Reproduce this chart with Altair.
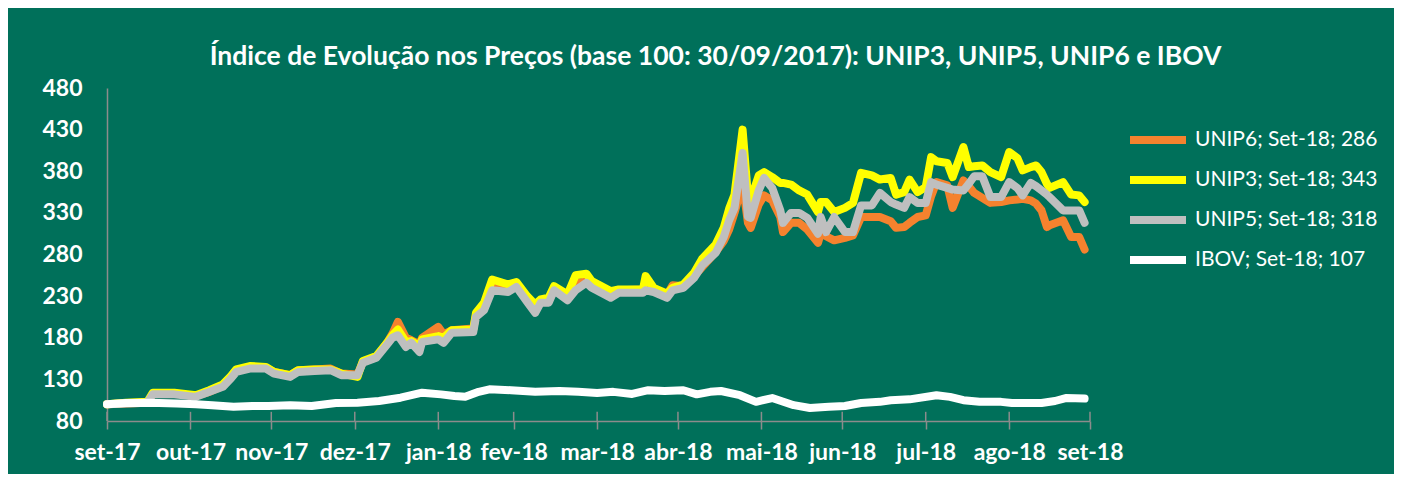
import altair as alt
import pandas as pd

# ---------------- data ----------------
dates_unip = [
    "2017-09-30", "2017-10-07", "2017-10-15", "2017-10-17", "2017-10-25", "2017-11-02", "2017-11-07", "2017-11-12", "2017-11-15", "2017-11-17",
    "2017-11-22", "2017-11-28", "2017-12-01", "2017-12-07", "2017-12-10", "2017-12-16", "2017-12-22", "2017-12-26", "2018-01-01", "2018-01-03",
    "2018-01-08", "2018-01-12", "2018-01-14", "2018-01-16", "2018-01-19", "2018-01-21", "2018-01-24", "2018-01-25", "2018-01-31", "2018-02-02",
    "2018-02-05", "2018-02-13", "2018-02-14", "2018-02-17", "2018-02-20", "2018-02-26", "2018-03-01", "2018-03-05", "2018-03-08", "2018-03-10",
    "2018-03-13", "2018-03-15", "2018-03-20", "2018-03-23", "2018-03-27", "2018-03-29", "2018-04-05", "2018-04-08", "2018-04-17", "2018-04-18",
    "2018-04-21", "2018-04-26", "2018-04-28", "2018-05-02", "2018-05-06", "2018-05-09", "2018-05-14", "2018-05-17", "2018-05-19", "2018-05-21",
    "2018-05-24", "2018-05-26", "2018-05-27", "2018-05-30", "2018-06-01", "2018-06-04", "2018-06-07", "2018-06-08", "2018-06-11", "2018-06-14",
    "2018-06-17", "2018-06-21", "2018-06-22", "2018-06-24", "2018-06-27", "2018-07-01", "2018-07-04", "2018-07-07", "2018-07-11", "2018-07-14",
    "2018-07-18", "2018-07-20", "2018-07-23", "2018-07-25", "2018-07-28", "2018-07-31", "2018-08-02", "2018-08-04", "2018-08-08", "2018-08-10",
    "2018-08-14", "2018-08-16", "2018-08-18", "2018-08-21", "2018-08-24", "2018-08-28", "2018-08-31", "2018-09-03", "2018-09-05", "2018-09-08",
    "2018-09-10", "2018-09-12", "2018-09-14", "2018-09-15", "2018-09-20", "2018-09-23", "2018-09-26", "2018-09-28",
]

unip5 = [
    100, 101, 102, 112, 112, 109, 115, 121, 131, 139,
    143, 143, 137, 133, 139, 140, 141, 135, 135, 150,
    156, 172, 180, 183, 169, 174, 163, 175, 178, 174,
    186, 187, 205, 213, 237, 235, 241, 223, 210, 222,
    222, 237, 225, 237, 246, 240, 228, 234, 234, 237,
    235, 228, 237, 240, 252, 267, 282, 301, 321, 336,
    402, 325, 324, 357, 372, 360, 333, 318, 330, 330,
    324, 305, 325, 307, 325, 307, 307, 339, 339, 354,
    343, 340, 336, 349, 342, 342, 367, 364, 360, 358,
    357, 365, 374, 374, 349, 349, 367, 360, 351, 366,
    362, 357, 352, 349, 333, 333, 333, 318,
]

unip3 = [
    100, 102, 103, 114, 114, 111, 117, 124, 134, 142,
    146, 145, 139, 135, 141, 142, 142, 137, 133, 152,
    158, 174, 183, 190, 175, 176, 170, 178, 182, 180,
    189, 190, 210, 222, 250, 244, 247, 230, 220, 226,
    228, 242, 232, 255, 257, 248, 236, 238, 238, 254,
    240, 233, 240, 244, 258, 275, 292, 312, 335, 352,
    430, 350, 346, 375, 379, 373, 366, 366, 364, 357,
    352, 331, 343, 343, 331, 336, 342, 378, 375, 370,
    372, 352, 355, 370, 355, 361, 397, 392, 390, 373,
    409, 385, 386, 387, 379, 373, 403, 396, 381, 385,
    387, 379, 365, 360, 367, 352, 351, 343,
]

unip6 = [
    100, 101, 102, 113, 113, 110, 115, 122, 133, 141,
    144, 144, 139, 135, 141, 142, 143, 137, 136, 151,
    157, 174, 185, 199, 180, 177, 172, 180, 193, 184,
    189, 191, 207, 216, 245, 242, 244, 228, 218, 225,
    226, 240, 230, 245, 248, 244, 234, 237, 238, 242,
    238, 232, 243, 242, 254, 265, 283, 296, 310, 330,
    365, 318, 312, 340, 351, 345, 325, 307, 318, 318,
    310, 294, 305, 302, 297, 300, 303, 325, 325, 325,
    320, 312, 313, 318, 325, 327, 350, 367, 363, 336,
    369, 362, 354, 348, 342, 343, 345, 346, 347, 345,
    341, 333, 313, 315, 321, 301, 301, 286,
]

dates_ibov = [
    "2017-09-30", "2017-10-07", "2017-10-16", "2017-10-26", "2017-11-02", "2017-11-08", "2017-11-16", "2017-11-23", "2017-11-29", "2017-12-07",
    "2017-12-15", "2017-12-24", "2018-01-01", "2018-01-09", "2018-01-17", "2018-01-25", "2018-02-01", "2018-02-06", "2018-02-10", "2018-02-15",
    "2018-02-19", "2018-02-27", "2018-03-08", "2018-03-17", "2018-03-24", "2018-03-31", "2018-04-06", "2018-04-13", "2018-04-19", "2018-04-25",
    "2018-05-02", "2018-05-07", "2018-05-12", "2018-05-16", "2018-05-23", "2018-05-29", "2018-06-04", "2018-06-12", "2018-06-18", "2018-06-25",
    "2018-07-01", "2018-07-07", "2018-07-14", "2018-07-18", "2018-07-25", "2018-08-04", "2018-08-09", "2018-08-14", "2018-08-20", "2018-08-28",
    "2018-09-01", "2018-09-05", "2018-09-12", "2018-09-17", "2018-09-21", "2018-09-28",
]

ibov = [
    100, 101.5, 102, 101, 100, 99, 97, 98, 98, 99,
    98, 101.6, 102, 104, 108, 114, 112, 110, 109, 115,
    118, 117, 115, 116, 115, 113.6, 115, 112.5, 117, 116,
    117, 112, 115, 116, 111, 103, 107.6, 99, 95.6, 97,
    98, 101.6, 103, 105, 106, 111, 109, 105, 103, 103,
    101.6, 101.6, 101.6, 104, 107.6, 107,
]

month_ticks = [
    "2017-09-30", "2017-10-31", "2017-11-30", "2017-12-31", "2018-01-31", "2018-02-28", "2018-03-31",
    "2018-04-30", "2018-05-31", "2018-06-30", "2018-07-31", "2018-08-31", "2018-09-30",
]
month_names = ["jan", "fev", "mar", "abr", "mai", "jun", "jul", "ago", "set", "out", "nov", "dez"]
y_ticks = [80, 130, 180, 230, 280, 330, 380, 430, 480]

series_order = ["UNIP6", "UNIP3", "UNIP5", "IBOV"]
series_colors = ["#F5822E", "#FFFF00", "#BFBFBF", "#FFFFFF"]

title_text = "Índice de Evolução nos Preços (base 100: 30/09/2017): UNIP3, UNIP5, UNIP6 e IBOV"

# ---------------- build table ----------------
rows = []
sources = {"UNIP6": (dates_unip, unip6), "UNIP3": (dates_unip, unip3),
           "UNIP5": (dates_unip, unip5), "IBOV": (dates_ibov, ibov)}
last_vals = {}
for name in series_order:
    ds, vs = sources[name]
    for d, v in zip(ds, vs):
        rows.append({"date": d, "value": v, "series": name})
    last_vals[name] = vs[-1]
df = pd.DataFrame(rows)
ticks_df = pd.DataFrame({"date": month_ticks})


def dt(s):
    y, m, d = map(int, s.split("-"))
    return alt.DateTime(year=y, month=m, date=d, utc=True)


label_expr = ""
for name in series_order:
    label_expr += f"datum.label == '{name}' ? '{name}; Set-18; {round(last_vals[name])}' : "
label_expr += "datum.label"

month_arr = "[" + ",".join(f"'{m}'" for m in month_names) + "]"
x_label_expr = month_arr + "[utcmonth(datum.value)] + '-' + utcFormat(datum.value, '%y')"

BG = "#00705A"
AXIS_GREY = "#8C8C8C"
FONT = "Lato"

x_enc = alt.X(
    "date:T",
    scale=alt.Scale(type="utc", domain=[dt(month_ticks[0]), dt(month_ticks[-1])]),
    axis=alt.Axis(
        values=[dt(s) for s in month_ticks], labelExpr=x_label_expr, title=None, grid=False,
        domainColor=AXIS_GREY, domainWidth=1.5, tickColor=AXIS_GREY, tickWidth=1.5, tickSize=8,
        labelFont=FONT, labelFontWeight="bold", labelFontSize=23, labelColor="white",
        labelPadding=12, labelOverlap=False, labelFlush=False, labelBound=False,
    ),
)
y_scale = alt.Scale(domain=[80, 480], nice=False, zero=False)
y_axis = alt.Axis(
    values=y_ticks, title=None, grid=False, ticks=False, domainColor=AXIS_GREY, domainWidth=1.5,
    labelFont=FONT, labelFontWeight="bold", labelFontSize=23, labelColor="white", labelPadding=25,
)

color_enc = alt.Color(
    "series:N",
    scale=alt.Scale(domain=series_order, range=series_colors),
    legend=alt.Legend(
        title=None, orient="none", legendX=1033, legendY=34, symbolType="M-2,0H2",
        symbolSize=784, symbolStrokeWidth=8, labelExpr=label_expr, labelFont=FONT,
        labelFontSize=21, labelColor="white", rowPadding=6, labelOffset=19, labelLimit=400,
    ),
)

# upward half of the crossing tick marks on the date axis
up_ticks = alt.Chart(ticks_df).mark_rule(color=AXIS_GREY, strokeWidth=1.5).encode(
    x=x_enc,
    y=alt.Y(datum=80, scale=y_scale, axis=y_axis),
    y2=alt.Y2(datum=91),
)

base = alt.Chart(df).mark_line(strokeWidth=8, strokeJoin="round", strokeCap="round").encode(
    x=x_enc,
    y=alt.Y("value:Q", scale=y_scale, axis=y_axis),
    color=color_enc,
)

layers = [up_ticks] + [base.transform_filter(alt.datum.series == s) for s in series_order]

chart = alt.layer(*layers).properties(
    width=983,
    height=333,
    title=alt.Title(
        title_text, font=FONT, fontSize=26.5, fontWeight="bold", color="white",
        anchor="middle", frame="group", dx=117, offset=7,
    ),
    background=BG,
    padding={"left": 99, "top": 80, "right": 304, "bottom": 53},
    autosize=alt.AutoSizeParams(type="none"),
).configure_view(stroke="transparent")

chart.save("out.html", embed_options={"renderer": "svg", "actions": False})
